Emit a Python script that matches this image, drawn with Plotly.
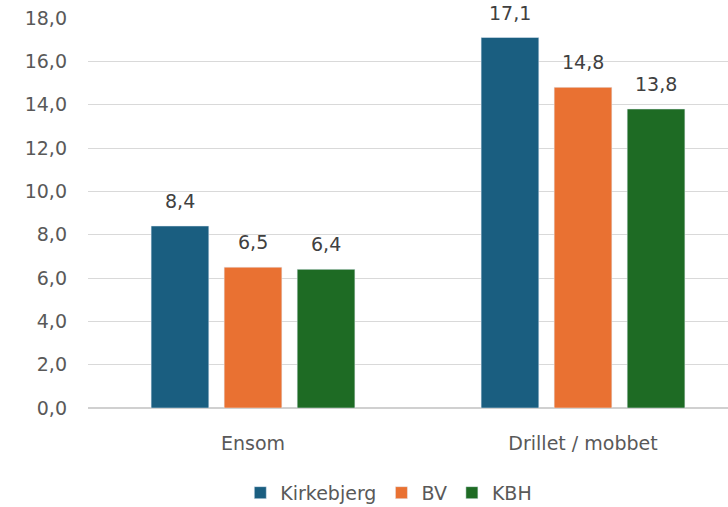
import plotly.graph_objects as go

categories = ["Ensom", "Drillet / mobbet"]
series_names = ["Kirkebjerg", "BV", "KBH"]
kirkebjerg = [8.4, 17.1]
bv = [6.5, 14.8]
kbh = [6.4, 13.8]
colors = ["#1a5e80", "#e97132", "#1e6b24"]

FONT = "DejaVu Sans"
bargap = 0.336
slot = (1 - bargap) / 3

fig = go.Figure()
for k, (name, vals, col) in enumerate(zip(series_names, [kirkebjerg, bv, kbh], colors)):
    fig.add_trace(go.Bar(x=categories, y=vals, name=name, marker_color=col))
    for i, v in enumerate(vals):
        fig.add_annotation(
            x=i + (k - 1) * slot, y=v, xref="x", yref="y",
            text=f"{v:.1f}".replace(".", ","), showarrow=False,
            yanchor="bottom", yshift=12,
            font=dict(family=FONT, size=19, color="#404040"),
        )

fig.update_layout(
    width=728, height=507,
    margin=dict(l=88, r=0, t=18, b=99, autoexpand=False),
    paper_bgcolor="white", plot_bgcolor="white",
    font=dict(family=FONT, size=19, color="#595959"),
    barmode="group", bargap=bargap, bargroupgap=0.21,
    showlegend=True,
    legend=dict(orientation="h", x=0.47, xanchor="center",
                yref="container", y=0.028, yanchor="middle",
                font=dict(family=FONT, size=19, color="#595959"), itemwidth=30),
    xaxis=dict(range=[-0.5, 1.4394], showgrid=False, showline=False, ticks="",
               ticklabelstandoff=22,
               tickfont=dict(family=FONT, size=19, color="#595959")),
    yaxis=dict(range=[0, 18], dtick=2, tickformat=".1f",
               showgrid=True, gridcolor="#d9d9d9", gridwidth=1,
               zeroline=True, zerolinecolor="#d0d0d0", zerolinewidth=1.5,
               ticks="", ticklabelstandoff=20,
               tickfont=dict(family=FONT, size=19, color="#595959")),
    separators=",.",
)
fig.write_html("out.html", config={"displayModeBar": False},
               post_script="document.body.style.margin='0';")
